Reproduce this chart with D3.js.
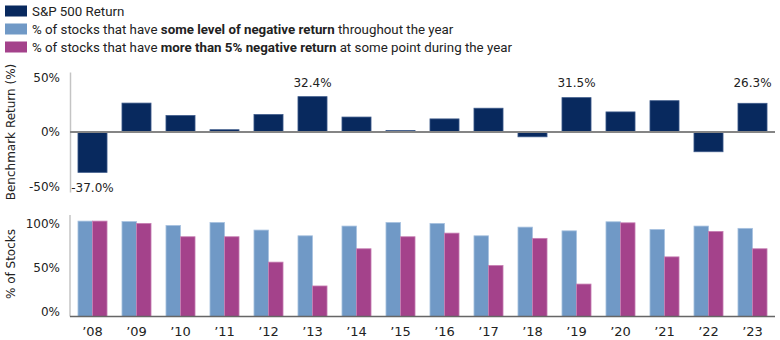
<!DOCTYPE html>
<html>
<head>
<meta charset="utf-8">
<script src="https://cdn.jsdelivr.net/npm/d3@7"></script>
<style>
  body { margin: 0; background: #fff; }
  svg { display: block; }
  .tick text { font-family: "DejaVu Sans", Verdana, sans-serif; font-size: 12px; fill: #222; }
  .xaxis .tick text { font-size: 13px; }
  .legend text { font-family: Roboto, "Noto Sans", sans-serif; font-size: 13.3px; fill: #222; }
</style>
</head>
<body>
<div id="chart"></div>
<script>
const years = ["08","09","10","11","12","13","14","15","16","17","18","19","20","21","22","23"].map(d => "\u2019" + d);
const spReturn = [-37.0, 26.5, 15.1, 2.1, 16.0, 32.4, 13.7, 1.4, 12.0, 21.8, -4.4, 31.5, 18.4, 28.7, -18.1, 26.3];
const someNegative = [100, 99.5, 95.5, 98.6, 90.6, 84.6, 94.8, 98.6, 97.6, 84.6, 93.7, 89.8, 99.3, 91.3, 94.8, 92.4];
const over5Negative = [100, 97.6, 83.6, 83.6, 57, 32, 71, 83.6, 87.4, 53.5, 81.9, 34, 98.2, 62.5, 89.2, 71];
const labelled = ["\u201908", "\u201913", "\u201919", "\u201923"];
const topTicks = [-50, 0, 50];
const botTicks = [0, 50, 100];

const navy = "#08295e", lightBlue = "#7099c6", magenta = "#a4428b";

const width = 780, height = 340;
const svg = d3.select("#chart").append("svg")
  .attr("width", width)
  .attr("height", height);

const x = d3.scaleBand().domain(years).range([70.5, 774.5]).paddingInner(0.34).paddingOuter(0.17);
const xSub = d3.scaleBand().domain(["some", "over5"]).range([0, x.bandwidth()]);

const yTop = d3.scaleLinear().domain([-55, 55]).range([192, 72]);
const yBot = d3.scaleLinear().domain([0, 108.5]).range([316.5, 213]);
// tick labels of the lower panel sit slightly inside the plot range
const yBotLabel = d3.scaleLinear().domain([0, 100]).range([311.7, 223.3]);

// Legend
const legendItems = [
  { color: navy, parts: [["S&P 500 Return", false]] },
  { color: lightBlue, parts: [["% of stocks that have ", false], ["some level of negative return", true], [" throughout the year", false]] },
  { color: magenta, parts: [["% of stocks that have ", false], ["more than 5% negative return", true], [" at some point during the year", false]] }
];
const legend = svg.append("g").attr("class", "legend");
legendItems.forEach((item, i) => {
  const cy = 11 + i * 18;
  legend.append("rect")
    .attr("x", 5).attr("y", cy - 5.5)
    .attr("width", 22).attr("height", 11)
    .attr("fill", item.color);
  const t = legend.append("text").attr("x", 32).attr("y", cy).attr("dy", "0.35em");
  item.parts.forEach(p => {
    t.append("tspan").attr("font-weight", p[1] ? "bold" : "normal").text(p[0]);
  });
});

// Top chart: S&P 500 return
const gTop = svg.append("g");
gTop.append("g")
  .attr("transform", "translate(70,0)")
  .call(d3.axisLeft(yTop).tickValues(topTicks).tickSize(0).tickPadding(10).tickFormat(d => d + "%"))
  .call(g => g.select(".domain").attr("stroke", "#c4c4c4").attr("stroke-width", 1.5));

gTop.selectAll("rect.sp")
  .data(spReturn)
  .enter()
  .append("rect")
  .attr("class", "sp")
  .attr("x", (d, i) => x(years[i]))
  .attr("y", d => yTop(Math.max(0, d)))
  .attr("width", x.bandwidth())
  .attr("height", d => Math.abs(yTop(d) - yTop(0)))
  .attr("fill", navy)
  .attr("stroke", "#3d5a8a")
  .attr("stroke-width", 0.8);

gTop.append("line")
  .attr("x1", 70).attr("x2", 775)
  .attr("y1", yTop(0)).attr("y2", yTop(0))
  .attr("stroke", "#858585")
  .attr("stroke-width", 2);

gTop.selectAll("text.val")
  .data(spReturn.map((v, i) => ({ v, year: years[i] })).filter(d => labelled.includes(d.year)))
  .enter()
  .append("text")
  .attr("class", "val")
  .attr("x", d => x(d.year) + x.bandwidth() / 2)
  .attr("y", d => d.v >= 0 ? yTop(45.5) : yTop(-51))
  .attr("dy", "0.35em")
  .attr("text-anchor", "middle")
  .attr("font-family", "DejaVu Sans, Verdana, sans-serif")
  .attr("font-size", 12)
  .attr("fill", "#222")
  .text(d => d.v.toFixed(1) + "%");

// Bottom chart: % of stocks
const gBot = svg.append("g");
gBot.append("g")
  .attr("transform", "translate(70,0)")
  .call(d3.axisLeft(yBotLabel).tickValues(botTicks).tickSize(0).tickPadding(10).tickFormat(d => d + "%"))
  .call(g => g.select(".domain").remove());
gBot.append("line")
  .attr("x1", 70).attr("x2", 70)
  .attr("y1", yBot(106.5)).attr("y2", yBot(0))
  .attr("stroke", "#c4c4c4").attr("stroke-width", 1.5);

const groups = gBot.selectAll("g.yr")
  .data(years)
  .enter()
  .append("g")
  .attr("class", "yr")
  .attr("transform", d => `translate(${x(d)},0)`);

groups.append("rect")
  .attr("x", xSub("some"))
  .attr("y", (d, i) => yBot(someNegative[i]))
  .attr("width", xSub.bandwidth())
  .attr("height", (d, i) => yBot(0) - yBot(someNegative[i]))
  .attr("fill", lightBlue)
  .attr("stroke", "#a8c2e0")
  .attr("stroke-width", 0.8);

groups.append("rect")
  .attr("x", xSub("over5"))
  .attr("y", (d, i) => yBot(over5Negative[i]))
  .attr("width", xSub.bandwidth())
  .attr("height", (d, i) => yBot(0) - yBot(over5Negative[i]))
  .attr("fill", magenta)
  .attr("stroke", "#c77fb3")
  .attr("stroke-width", 0.8);

gBot.append("g")
  .attr("class", "xaxis")
  .attr("transform", `translate(0,${yBot(0)})`)
  .call(d3.axisBottom(x).tickSize(0).tickPadding(10))
  .call(g => g.select(".domain").attr("d", "M70,0H775").attr("stroke", "#666").attr("stroke-width", 1.5));

// Axis titles
svg.append("text")
  .attr("transform", `translate(11,${yTop(0)}) rotate(-90)`)
  .attr("text-anchor", "middle")
  .attr("dy", "0.35em")
  .attr("font-family", "DejaVu Sans, Verdana, sans-serif")
  .attr("font-size", 12)
  .attr("fill", "#222")
  .text("Benchmark Return (%)");

svg.append("text")
  .attr("transform", `translate(11,${yBot(55)}) rotate(-90)`)
  .attr("text-anchor", "middle")
  .attr("dy", "0.35em")
  .attr("font-family", "DejaVu Sans, Verdana, sans-serif")
  .attr("font-size", 12)
  .attr("fill", "#222")
  .text("% of Stocks");
</script>
</body>
</html>
